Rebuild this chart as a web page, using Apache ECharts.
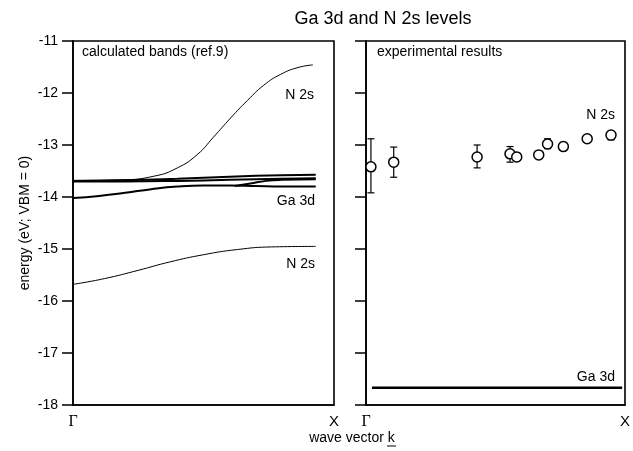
<!DOCTYPE html>
<html>
<head>
<meta charset="utf-8">
<script src="https://cdn.jsdelivr.net/npm/echarts@6/dist/echarts.min.js"></script>
<style>
  html, body { margin: 0; padding: 0; background: #fff; }
  #chart { width: 633px; height: 451px; }
</style>
</head>
<body>
<div id="chart"></div>
<script>
// k runs from Gamma (0) to X (1)
var xTicks = ['Γ', 'X'];

// calculated bands (left panel)
var n2sUpperK = [0, 0.18, 0.31, 0.40, 0.477, 0.538, 0.604, 0.669, 0.731, 0.796, 0.862, 0.919];
var n2sUpperE = [-13.68, -13.67, -13.60, -13.44, -13.18, -12.85, -12.48, -12.14, -11.85, -11.64, -11.51, -11.46];

var n2sLowerK = [0, 0.12, 0.25, 0.37, 0.5, 0.63, 0.76, 0.93];
var n2sLowerE = [-15.68, -15.57, -15.41, -15.25, -15.11, -15.01, -14.96, -14.95];

var ga1K = [0, 0.2, 0.4, 0.6, 0.8, 0.93];
var ga1E = [-13.69, -13.68, -13.65, -13.61, -13.58, -13.57];
var ga2K = [0, 0.2, 0.4, 0.6, 0.8, 0.93];
var ga2E = [-13.70, -13.70, -13.69, -13.67, -13.65, -13.64];
var ga3K = [0, 0.1, 0.2, 0.3, 0.4, 0.5, 0.6, 0.7, 0.8, 0.93];
var ga3E = [-14.02, -13.98, -13.92, -13.85, -13.80, -13.78, -13.78, -13.79, -13.80, -13.80];
var ga4K = [0.62, 0.68, 0.74, 0.8, 0.93];
var ga4E = [-13.79, -13.74, -13.69, -13.67, -13.66];

// experimental results (right panel)
var expK = [0.019, 0.107, 0.429, 0.556, 0.582, 0.667, 0.701, 0.762, 0.854, 0.946];
var expE = [-13.42, -13.33, -13.23, -13.17, -13.23, -13.19, -12.98, -13.03, -12.88, -12.81];
var expLo = [-13.92, -13.62, -13.44, -13.33, -13.30, -13.26, -13.07, -13.10, -12.94, -12.90];
var expHi = [-12.88, -13.04, -13.00, -13.03, -13.15, -13.12, -12.88, -12.95, -12.82, -12.74];
var gaExpK = [0.023, 0.989];
var gaExpE = [-17.67, -17.67];

var font = 'Liberation Sans';

function pairs(k, e) {
  return k.map(function (v, i) { return [v, e[i]]; });
}

var myChart = echarts.init(document.getElementById('chart'));

function xAxisOf(idx) {
  return {
    gridIndex: idx,
    type: 'value',
    min: 0,
    max: 1,
    interval: 1,
    axisLine: { show: true, lineStyle: { color: '#000', width: 1.5 } },
    axisTick: { show: false },
    splitLine: { show: false },
    axisLabel: {
      margin: 9,
      formatter: function (v) {
        return v === 0 ? '{g|' + xTicks[0] + '}' : '{x|' + xTicks[1] + '}';
      },
      rich: {
        g: { fontFamily: 'Liberation Serif', fontSize: 16, color: '#000' },
        x: { fontFamily: font, fontSize: 15, color: '#000' }
      }
    }
  };
}

function yAxisOf(idx, labels) {
  return {
    gridIndex: idx,
    type: 'value',
    min: -18,
    max: -11,
    interval: 1,
    name: labels ? 'energy (eV; VBM = 0)' : '',
    nameLocation: 'middle',
    nameGap: 41,
    nameTextStyle: { fontFamily: font, fontSize: 14, color: '#000' },
    axisLine: { show: true, lineStyle: { color: '#000', width: 1.6 } },
    axisTick: { show: true, inside: false, length: 11, lineStyle: { color: '#000', width: 1.5 } },
    splitLine: { show: false },
    axisLabel: { show: labels, fontFamily: font, fontSize: 14, color: '#000', margin: 15 }
  };
}

function band(k, e, w) {
  return {
    type: 'line',
    xAxisIndex: 0,
    yAxisIndex: 0,
    data: pairs(k, e),
    smooth: 0.5,
    symbol: 'none',
    silent: true,
    lineStyle: { color: '#000', width: w }
  };
}

var option = {
  animation: false,
  backgroundColor: '#fff',
  title: {
    text: 'Ga 3d and N 2s levels',
    left: 378,
    textAlign: 'center',
    top: 5,
    textStyle: { fontFamily: font, fontSize: 18, fontWeight: 'normal', color: '#000' }
  },
  grid: [
    { left: 73, right: 299, top: 41, bottom: 46, show: true, borderColor: '#000', borderWidth: 1.6, backgroundColor: 'transparent' },
    { left: 366, right: 6, top: 41, bottom: 46, show: true, borderColor: '#000', borderWidth: 1.6, backgroundColor: 'transparent' }
  ],
  xAxis: [xAxisOf(0), xAxisOf(1)],
  yAxis: [yAxisOf(0, true), yAxisOf(1, false)],
  series: [
    band(n2sUpperK, n2sUpperE, 1),
    band(n2sLowerK, n2sLowerE, 1),
    band(ga1K, ga1E, 2),
    band(ga2K, ga2E, 2),
    band(ga3K, ga3E, 2),
    band(ga4K, ga4E, 2),
    {
      type: 'line',
      xAxisIndex: 1,
      yAxisIndex: 1,
      data: pairs(gaExpK, gaExpE),
      symbol: 'none',
      lineStyle: { color: '#000', width: 2.5 }
    },
    {
      type: 'custom',
      xAxisIndex: 1,
      yAxisIndex: 1,
      data: expK.map(function (k, i) { return [k, expLo[i], expHi[i]]; }),
      renderItem: function (params, api) {
        var lo = api.coord([api.value(0), api.value(1)]);
        var hi = api.coord([api.value(0), api.value(2)]);
        var c = 3.5;
        var st = { stroke: '#000', lineWidth: 1.2 };
        return {
          type: 'group',
          children: [
            { type: 'line', shape: { x1: lo[0], y1: lo[1], x2: hi[0], y2: hi[1] }, style: st },
            { type: 'line', shape: { x1: lo[0] - c, y1: lo[1], x2: lo[0] + c, y2: lo[1] }, style: st },
            { type: 'line', shape: { x1: hi[0] - c, y1: hi[1], x2: hi[0] + c, y2: hi[1] }, style: st }
          ]
        };
      }
    },
    {
      type: 'scatter',
      xAxisIndex: 1,
      yAxisIndex: 1,
      data: pairs(expK, expE),
      symbol: 'circle',
      symbolSize: 10,
      itemStyle: { color: '#fff', borderColor: '#000', borderWidth: 1.5, opacity: 1 },
      z: 5
    }
  ],
  graphic: [
    { type: 'text', left: 82, top: 45, style: { text: 'calculated bands (ref.9)', font: '14px "Liberation Sans"', fill: '#000' } },
    { type: 'text', left: 377, top: 45, style: { text: 'experimental results', font: '14px "Liberation Sans"', fill: '#000' } },
    { type: 'text', x: 314, y: 95, style: { text: 'N 2s', font: '14px "Liberation Sans"', fill: '#000', align: 'right', verticalAlign: 'middle' } },
    { type: 'text', x: 315, y: 201, style: { text: 'Ga 3d', font: '14px "Liberation Sans"', fill: '#000', align: 'right', verticalAlign: 'middle' } },
    { type: 'text', x: 315, y: 264, style: { text: 'N 2s', font: '14px "Liberation Sans"', fill: '#000', align: 'right', verticalAlign: 'middle' } },
    { type: 'text', x: 615, y: 115, style: { text: 'N 2s', font: '14px "Liberation Sans"', fill: '#000', align: 'right', verticalAlign: 'middle' } },
    { type: 'text', x: 615, y: 377, style: { text: 'Ga 3d', font: '14px "Liberation Sans"', fill: '#000', align: 'right', verticalAlign: 'middle' } },
    { type: 'text', x: 352, y: 438, style: { text: 'wave vector k', font: '14px "Liberation Sans"', fill: '#000', align: 'center', verticalAlign: 'middle' } },
    { type: 'line', shape: { x1: 387, y1: 446, x2: 396, y2: 446 }, style: { stroke: '#000', lineWidth: 1 } }
  ]
};

myChart.setOption(option);
</script>
</body>
</html>
